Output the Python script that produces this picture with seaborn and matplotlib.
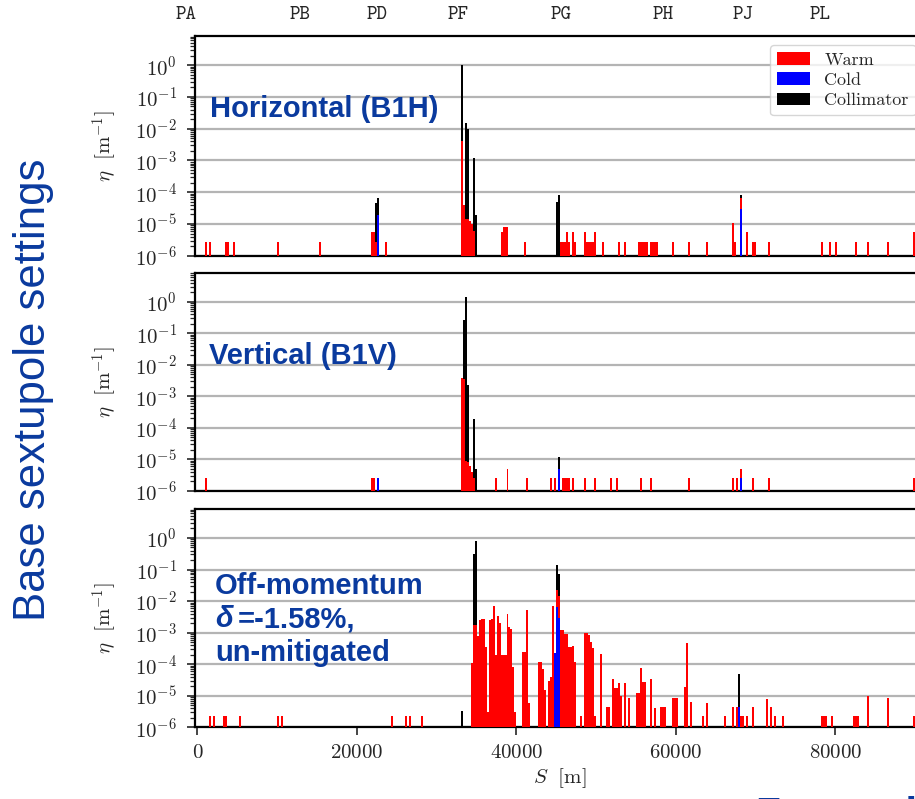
import numpy as np
import pandas as pd
import seaborn as sns
import matplotlib
matplotlib.use("Agg")
import matplotlib.pyplot as plt
from matplotlib.patches import Patch
from matplotlib.ticker import FixedLocator, LogLocator, NullFormatter
from matplotlib.transforms import blended_transform_factory

# ---------------- data ----------------
arc_labels = ["PA", "PB", "PD", "PF", "PG", "PH", "PJ", "PL"]
arc_label_s = [-1380, 12850, 22530, 32690, 45600, 58450, 68480, 78010]

x_ticks = [0, 20000, 40000, 60000, 80000]
y_ticks = [1e-6, 1e-5, 1e-4, 1e-3, 1e-2, 1e-1, 1e0]

# Horizontal (B1H)
h_warm_s = [1030, 1570, 3660, 3990, 4700, 10100, 15490, 21920, 22170, 22380, 23720,
            33150, 33400, 33650, 33880, 34150, 34400, 34650,
            38150, 38400, 38650, 38900, 41190,
            45670, 45960, 46150, 46380, 46710, 47050, 47340,
            48720, 48870, 49010, 49310, 49630, 49930, 50760, 52770, 53610,
            55400, 55650, 55900, 56120, 56330, 56760, 57020, 57270, 57580,
            59670, 61550, 63850, 67190, 67440, 68030, 68970, 69700, 69950,
            71580, 78400, 79400, 80100, 82660, 84200, 86550, 89850]
h_warm_eta = [2.8e-6, 2.8e-6, 2.8e-6, 2.8e-6, 2.8e-6, 2.8e-6, 2.8e-6, 5.7e-6, 5.7e-6, 2.8e-6, 2.8e-6,
              4e-3, 4e-5, 1.4e-5, 1.4e-5, 1.2e-5, 1e-5, 6e-6,
              5.5e-6, 7.9e-6, 7.9e-6, 7.9e-6, 2.8e-6,
              2.8e-6, 2.8e-6, 2.8e-6, 5.5e-6, 2.8e-6, 5.5e-6, 2.8e-6,
              5.5e-6, 2.8e-6, 2.8e-6, 2.8e-6, 2.8e-6, 5.5e-6, 2.8e-6, 2.8e-6, 2.8e-6,
              2.8e-6, 2.8e-6, 2.8e-6, 2.8e-6, 2.8e-6, 2.8e-6, 2.8e-6, 2.8e-6, 2.8e-6,
              2.8e-6, 2.8e-6, 2.8e-6, 1.07e-5, 2.8e-6, 6.6e-5, 5.5e-6, 2.8e-6, 2.8e-6,
              2.8e-6, 2.8e-6, 2.8e-6, 2.8e-6, 2.8e-6, 2.8e-6, 2.8e-6, 5.5e-6]
h_cold_s = [22650, 68080]
h_cold_eta = [1.9e-5, 3e-5]
h_coll_s = [22400, 22650, 33150, 33400, 33650, 33880, 34520, 34760, 45130, 45380, 68080]
h_coll_eta = [4.6e-5, 6.6e-5, 1.0, 3e-5, 1.5e-2, 1e-2, 1.2e-3, 1.9e-5, 5e-5, 7.9e-5, 7.9e-5]

# Vertical (B1V)
v_warm_s = [1070, 21880, 22170,
            33150, 33400, 33650, 33900, 34150, 34400, 34650,
            37310, 38900, 41280, 44490, 44800, 45840, 46100, 46300, 46700, 47130,
            48590, 49930, 51940, 52570, 55620, 56830, 61550, 67190, 67620, 68030,
            69580, 71580, 89850]
v_warm_eta = [2.5e-6, 2.5e-6, 2.5e-6,
              3.7e-3, 3.5e-3, 9e-6, 8e-6, 6e-6, 4e-6, 2.5e-6,
              2.5e-6, 4.9e-6, 2.5e-6, 2.5e-6, 2.5e-6, 2.5e-6, 2.5e-6, 2.5e-6, 2.5e-6, 2.5e-6,
              2.5e-6, 2.5e-6, 2.5e-6, 2.5e-6, 2.5e-6, 2.5e-6, 2.5e-6, 2.5e-6, 2.5e-6, 4.9e-6,
              2.5e-6, 2.5e-6, 2.5e-6]
v_cold_s = [22680, 45390, 68080]
v_cold_eta = [2.5e-6, 4.9e-6, 2.5e-6]
v_coll_s = [33280, 33600, 33880, 34550, 34840, 45390]
v_coll_eta = [0.26, 1.38, 2.2e-3, 1.9e-4, 4.9e-6, 1.2e-5]

# Off-momentum (delta = -1.58 %)
o_warm_s = [1570, 2110, 3360, 3570, 5450, 10060, 10680, 24430, 26230, 26560, 28110,
            34380, 34590, 34820, 35090, 35430, 35620, 35760, 36050, 36390, 36620,
            36810, 37100, 37310, 37640, 37930, 38220, 38380, 38560, 38900, 39100,
            39270, 39520, 39940, 40850, 41100, 41280, 41530,
            42950, 43070, 43360, 43580, 44200, 44380, 44560, 45130, 45380,
            45620, 45830, 46050, 46300, 46620, 46870, 47050, 47340,
            48050, 48630, 48870, 49010, 49300, 49560, 49970, 50720,
            51310, 51600, 52020, 52260, 52520, 52770, 53190, 53620, 54030,
            55160, 55360, 55580, 55850, 56100, 56870, 57370, 58080, 58330, 58580,
            59560, 59810, 60040, 61010, 61470, 61850, 63430, 63850, 66150,
            67190, 67690, 68200, 68450, 68870, 69520, 71250, 71790, 72420, 73460,
            78270, 78520, 78780, 79530, 82450, 82700, 82990, 84120, 86550, 89760]
o_warm_eta = [2.2e-6, 2.2e-6, 2.2e-6, 2.2e-6, 2.2e-6, 2.2e-6, 2.2e-6, 2.2e-6, 2.2e-6, 2.2e-6, 2.2e-6,
              1.1e-4, 1.7e-3, 1.7e-3, 8e-4, 2.5e-3, 2.8e-3, 2.8e-3, 3.5e-4, 3e-6, 2.5e-3,
              2.8e-3, 6.9e-3, 2e-4, 3.4e-3, 2.0e-3, 2e-4, 2e-4, 2e-4, 4e-3, 1.5e-3,
              1.3e-3, 8e-5, 3e-6, 2.5e-4, 2.5e-4, 5.4e-3, 6e-6,
              1.2e-4, 1.2e-4, 7e-5, 1.5e-5, 3e-5, 4e-5, 7.2e-3, 2.2e-2, 1.5e-2,
              1.2e-3, 1.2e-3, 9.3e-4, 9.3e-4, 3.5e-4, 3.5e-4, 3.7e-4, 1.2e-4,
              2.2e-6, 1e-3, 1e-3, 8.3e-4, 5e-4, 3.2e-4, 2.2e-6, 2.1e-4,
              4.5e-6, 4.5e-6, 3.5e-5, 1.7e-5, 1.7e-5, 2.5e-5, 1e-5, 2.5e-5, 8.3e-6,
              1.2e-5, 1.2e-5, 7.4e-5, 2.8e-5, 2.8e-5, 3.5e-5, 4e-6, 4.3e-6, 4.3e-6, 4.3e-6,
              8.3e-6, 8.3e-6, 8.3e-6, 1.9e-5, 4.6e-4, 6.5e-6, 2.2e-6, 6e-6, 2.2e-6,
              4.3e-6, 4.3e-6, 2.2e-6, 2.2e-6, 2.2e-6, 4.3e-6, 8e-6, 4.3e-6, 2.2e-6, 2.2e-6,
              2.2e-6, 2.2e-6, 2.2e-6, 2.2e-6, 2.2e-6, 2.2e-6, 2.2e-6, 1e-5, 8.5e-6, 2.2e-6]
o_cold_s = [44850, 45130, 45380, 67940]
o_cold_eta = [2.2e-4, 6.6e-3, 3e-3, 4.3e-6]
o_coll_s = [33210, 34550, 34820, 45130, 45380, 67940]
o_coll_eta = [3.4e-6, 0.32, 0.79, 0.14, 7.4e-2, 4.8e-5]

series_names = ["Warm", "Cold", "Collimator"]
series_colors = {"Warm": "#ff0000", "Cold": "#0000ff", "Collimator": "#000000"}

panels = [
    {"Warm": (h_warm_s, h_warm_eta), "Cold": (h_cold_s, h_cold_eta), "Collimator": (h_coll_s, h_coll_eta)},
    {"Warm": (v_warm_s, v_warm_eta), "Cold": (v_cold_s, v_cold_eta), "Collimator": (v_coll_s, v_coll_eta)},
    {"Warm": (o_warm_s, o_warm_eta), "Cold": (o_cold_s, o_cold_eta), "Collimator": (o_coll_s, o_coll_eta)},
]

# ---------------- style ----------------
sns.set_style("white")
plt.rcParams["font.family"] = ["serif"]
plt.rcParams["font.serif"] = ["cmr10", "DejaVu Serif"]
plt.rcParams["mathtext.fontset"] = "cm"
plt.rcParams["axes.formatter.use_mathtext"] = True

W, H = 915, 799
fig = plt.figure(figsize=(W / 100, H / 100), dpi=100)
fig.patch.set_facecolor("white")

def fx(px):
    return px / W

def fy(py):
    return 1 - py / H

ax_left, ax_right = 195, 925
rows = [(36, 255.7), (272.7, 490.7), (509, 727.3)]
xlim = (-313, 91230)
ylim = (1e-6, 8.3)
blue_txt = "#0a3a9e"

axes = []
for i, (top, bot) in enumerate(rows):
    ax = fig.add_axes([fx(ax_left), fy(bot), fx(ax_right - ax_left), (bot - top) / H])
    axes.append(ax)
    ax.set_yscale("log")
    data = panels[i]
    for name in ["Collimator", "Warm", "Cold"]:
        s, eta = data[name]
        df = pd.DataFrame({"S": s, "eta": eta})
        sns.histplot(data=df, x="S", weights="eta", binwidth=250, binrange=(-1000, 92000),
                     color=series_colors[name], alpha=1.0, linewidth=0, edgecolor="none",
                     element="bars", fill=True, ax=ax, zorder=3)
    ax.set_xlim(*xlim)
    ax.set_ylim(*ylim)
    ax.set_axisbelow(True)
    ax.yaxis.set_major_locator(FixedLocator(y_ticks))
    ax.yaxis.set_minor_locator(LogLocator(base=10, subs=np.arange(2, 10), numticks=50))
    ax.yaxis.set_minor_formatter(NullFormatter())
    ax.grid(False)
    ax.yaxis.grid(True, which="major", color="#b4b4b4", linewidth=1.6)
    for sp in ax.spines.values():
        sp.set_linewidth(1.6)
        sp.set_color("black")
    ax.tick_params(axis="y", which="major", direction="out", length=6, width=1.2,
                   labelsize=15, pad=7, left=True, right=False)
    ax.tick_params(axis="y", which="minor", direction="out", length=3.5, width=0.9,
                   left=True, right=False)
    ax.set_ylabel(r"$\eta\ \ [\mathrm{m}^{-1}]$", fontsize=15)
    ax.yaxis.set_label_coords((119 - ax_left) / (ax_right - ax_left), 0.5)
    ax.set_xticks(x_ticks)
    if i < 2:
        ax.tick_params(axis="x", bottom=False, labelbottom=False, top=False)
        ax.set_xlabel("")
    else:
        ax.tick_params(axis="x", which="major", direction="out", length=6, width=1.2,
                       labelsize=15, pad=6, bottom=True, top=False)
        ax.set_xlabel(r"$S\ \ [\mathrm{m}]$", fontsize=15, labelpad=3)

# arc labels above top panel
tr = blended_transform_factory(axes[0].transData, fig.transFigure)
for lab, s in zip(arc_labels, arc_label_s):
    axes[0].text(s, fy(15), lab, transform=tr, ha="center", va="center",
                 fontsize=14.5, family="cmtt10", clip_on=False)

# legend
handles = [Patch(facecolor=series_colors[n], edgecolor="none", label=n) for n in series_names]
leg = axes[0].legend(handles=handles, loc="upper right", fontsize=13, handlelength=1.8,
                     handleheight=0.7, framealpha=0.8, edgecolor="#cccccc", fancybox=True,
                     borderaxespad=0.5, labelspacing=0.25)

# panel annotations
sans = ["Liberation Sans", "DejaVu Sans"]
fig.text(fx(210), fy(109), "Horizontal (B1H)", color=blue_txt, fontsize=21,
         fontweight="bold", family=sans, ha="left", va="center")
fig.text(fx(209), fy(356), "Vertical (B1V)", color=blue_txt, fontsize=21,
         fontweight="bold", family=sans, ha="left", va="center")
fig.text(fx(215), fy(594), "Off-momentum", color=blue_txt, fontsize=21,
         fontweight="bold", family=sans, ha="left", va="baseline")
fig.text(fx(215), fy(627), "δ", color=blue_txt, fontsize=21, fontweight="bold",
         fontstyle="italic", family=sans, ha="left", va="baseline")
fig.text(fx(238), fy(627), "=-1.58%,", color=blue_txt, fontsize=21,
         fontweight="bold", family=sans, ha="left", va="baseline")
fig.text(fx(215), fy(661), "un-mitigated", color=blue_txt, fontsize=21,
         fontweight="bold", family=sans, ha="left", va="baseline")

fig.text(fx(34), fy(390), "Base sextupole settings", color=blue_txt, fontsize=31.5,
         family=sans, rotation=90, ha="center", va="center")
fig.text(fx(756), fy(796), "Zoomed", color=blue_txt, fontsize=30, fontweight="bold",
         family=sans, ha="left", va="top")

fig.savefig("out.png", dpi=100)
